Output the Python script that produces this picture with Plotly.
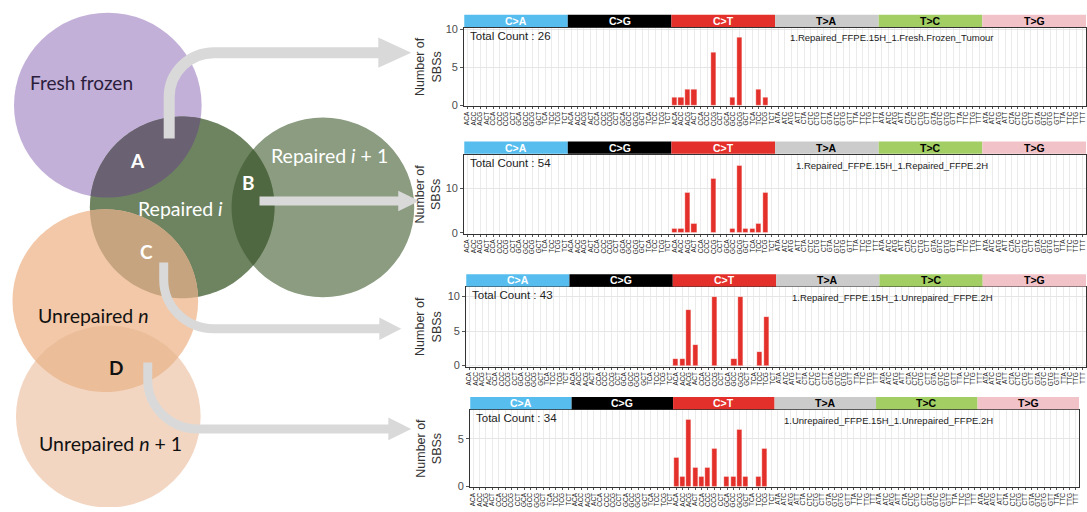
import numpy as np
import plotly.graph_objects as go

W, H = 1087, 512

# ---------------- data ----------------
MUT_TYPES = ["C>A", "C>G", "C>T", "T>A", "T>C", "T>G"]
TYPE_COLORS = ["#56BDEE", "#000000", "#E4302A", "#CBCBCB", "#A2CE63", "#F1C3C9"]
TYPE_TEXT_COLORS = ["white", "white", "white", "black", "black", "black"]
C_CONTEXTS = ["ACA", "ACC", "ACG", "ACT", "CCA", "CCC", "CCG", "CCT",
              "GCA", "GCC", "GCG", "GCT", "TCA", "TCC", "TCG", "TCT"]
T_CONTEXTS = ["ATA", "ATC", "ATG", "ATT", "CTA", "CTC", "CTG", "CTT",
              "GTA", "GTC", "GTG", "GTT", "TTA", "TTC", "TTG", "TTT"]
TICK_LABELS = C_CONTEXTS * 3 + T_CONTEXTS * 3

SAMPLE_NAMES = [
    "1.Repaired_FFPE.15H_1.Fresh.Frozen_Tumour",
    "1.Repaired_FFPE.15H_1.Repaired_FFPE.2H",
    "1.Repaired_FFPE.15H_1.Unrepaired_FFPE.2H",
    "1.Unrepaired_FFPE.15H_1.Unrepaired_FFPE.2H",
]
TOTAL_COUNTS = [26, 54, 43, 34]

COUNTS_A = [
    0, 0, 0, 0, 0, 0, 0, 0, 0, 0, 0, 0, 0, 0, 0, 0,   # C>A
    0, 0, 0, 0, 0, 0, 0, 0, 0, 0, 0, 0, 0, 0, 0, 0,   # C>G
    1, 1, 2, 2, 0, 0, 7, 0, 0, 1, 9, 0, 0, 2, 1, 0,   # C>T
    0, 0, 0, 0, 0, 0, 0, 0, 0, 0, 0, 0, 0, 0, 0, 0,   # T>A
    0, 0, 0, 0, 0, 0, 0, 0, 0, 0, 0, 0, 0, 0, 0, 0,   # T>C
    0, 0, 0, 0, 0, 0, 0, 0, 0, 0, 0, 0, 0, 0, 0, 0,   # T>G
]
COUNTS_B = [
    0, 0, 0, 0, 0, 0, 0, 0, 0, 0, 0, 0, 0, 0, 0, 0,
    0, 0, 0, 0, 0, 0, 0, 0, 0, 0, 0, 0, 0, 0, 0, 0,
    1, 1, 9, 2, 0, 0, 12, 0, 0, 1, 15, 1, 1, 2, 9, 0,
    0, 0, 0, 0, 0, 0, 0, 0, 0, 0, 0, 0, 0, 0, 0, 0,
    0, 0, 0, 0, 0, 0, 0, 0, 0, 0, 0, 0, 0, 0, 0, 0,
    0, 0, 0, 0, 0, 0, 0, 0, 0, 0, 0, 0, 0, 0, 0, 0,
]
COUNTS_C = [
    0, 0, 0, 0, 0, 0, 0, 0, 0, 0, 0, 0, 0, 0, 0, 0,
    0, 0, 0, 0, 0, 0, 0, 0, 0, 0, 0, 0, 0, 0, 0, 0,
    1, 1, 8, 3, 0, 0, 10, 0, 0, 1, 10, 0, 0, 2, 7, 0,
    0, 0, 0, 0, 0, 0, 0, 0, 0, 0, 0, 0, 0, 0, 0, 0,
    0, 0, 0, 0, 0, 0, 0, 0, 0, 0, 0, 0, 0, 0, 0, 0,
    0, 0, 0, 0, 0, 0, 0, 0, 0, 0, 0, 0, 0, 0, 0, 0,
]
COUNTS_D = [
    0, 0, 0, 0, 0, 0, 0, 0, 0, 0, 0, 0, 0, 0, 0, 0,
    0, 0, 0, 0, 0, 0, 0, 0, 0, 0, 0, 0, 0, 0, 0, 0,
    3, 1, 7, 2, 1, 2, 4, 0, 1, 1, 6, 1, 0, 1, 4, 0,
    0, 0, 0, 0, 0, 0, 0, 0, 0, 0, 0, 0, 0, 0, 0, 0,
    0, 0, 0, 0, 0, 0, 0, 0, 0, 0, 0, 0, 0, 0, 0, 0,
    0, 0, 0, 0, 0, 0, 0, 0, 0, 0, 0, 0, 0, 0, 0, 0,
]
PANEL_COUNTS = [COUNTS_A, COUNTS_B, COUNTS_C, COUNTS_D]
Y_TICKS = [[0, 5, 10], [0, 10], [0, 5, 10], [0, 5]]
Y_RANGES = [(-0.13, 10.26), (-0.2, 17.4), (-0.15, 11.4), (-0.1, 8.06)]

# ---------------- layout geometry (pixels) ----------------
PANEL_BOX = [(464, 1087, 24, 104), (464, 1087, 153.5, 234),
             (466, 1087, 288, 369), (470, 1080, 413, 492)]
STRIP_BOX = [(11, 23.5), (140, 152.5), (275, 287.5), (400, 412.5)]

FONT = "Liberation Sans, Arial, sans-serif"
VFONT = "Lato, Noto Sans, sans-serif"

def py(v):
    return 1 - v / H

fig = go.Figure()
shapes = []
annotations = []
layout_axes = {}

x_idx = list(range(96))
bar_colors = [TYPE_COLORS[i // 16] for i in x_idx]

for k in range(4):
    n = k + 1
    xa = "x" if n == 1 else f"x{n}"
    ya = "y" if n == 1 else f"y{n}"
    l, r, t, b = PANEL_BOX[k]
    fig.add_trace(go.Bar(
        x=x_idx, y=PANEL_COUNTS[k], xaxis=xa, yaxis=ya, width=0.8,
        marker=dict(color=bar_colors, line=dict(width=0.6, color="rgba(255,255,255,0.55)")),
        hoverinfo="skip", showlegend=False))
    layout_axes[f"xaxis{'' if n == 1 else n}"] = dict(
        domain=[l / W, r / W], anchor=ya, range=[-0.5, 95.5],
        tickmode="array", tickvals=x_idx, ticktext=TICK_LABELS, tickangle=-90,
        tickfont=dict(size=6.5, family=FONT, color="#222222"),
        ticks="outside", ticklen=2, tickcolor="#555555",
        showgrid=True, gridcolor="#EBEBEB", gridwidth=1,
        showline=True, mirror=True, linecolor="#333333", linewidth=1,
        zeroline=False, fixedrange=True)
    layout_axes[f"yaxis{'' if n == 1 else n}"] = dict(
        domain=[py(b), py(t)], anchor=xa, range=list(Y_RANGES[k]),
        tickmode="array", tickvals=Y_TICKS[k],
        tickfont=dict(size=11, family=FONT, color="#4D4D4D"),
        ticks="outside", ticklen=3, tickcolor="#555555",
        showgrid=True, gridcolor="#E5E5E5", gridwidth=1,
        showline=True, mirror=True, linecolor="#333333", linewidth=1,
        zeroline=False, fixedrange=True)
    # strips
    s_top, s_bot = STRIP_BOX[k]
    for g in range(6):
        shapes.append(dict(type="rect", xref=xa, yref="paper",
                           x0=g * 16 - 0.5, x1=g * 16 + 15.5, y0=py(s_bot), y1=py(s_top),
                           fillcolor=TYPE_COLORS[g], line=dict(width=0), layer="above"))
        annotations.append(dict(xref=xa, yref="paper", x=g * 16 + 7.5, y=py((s_top + s_bot) / 2),
                                text=f"<b>{MUT_TYPES[g]}</b>", showarrow=False,
                                font=dict(size=10.5, family=FONT, color=TYPE_TEXT_COLORS[g]),
                                xanchor="center", yanchor="middle"))
    annotations.append(dict(xref="paper", yref="paper", x=(l + 4) / W, y=py(t),
                            text=f"Total Count : {TOTAL_COUNTS[k]}", showarrow=False,
                            font=dict(size=11.5, family=FONT, color="#222222"),
                            xanchor="left", yanchor="top"))
    annotations.append(dict(xref=xa, yref="paper", x=65.5, y=py(t + 10.5),
                            text=SAMPLE_NAMES[k], showarrow=False,
                            font=dict(size=9.5, family=FONT, color="#222222"),
                            xanchor="center", yanchor="middle"))
    annotations.append(dict(xref="paper", yref="paper", x=428 / W, y=py((t + b) / 2),
                            text="Number of<br>SBSs", showarrow=False, textangle=-90,
                            font=dict(size=12.5, family=FONT, color="#333333"),
                            xanchor="center", yanchor="middle"))

# ---------------- Venn diagram (pixel coordinate overlay axis) ----------------
fig.add_trace(go.Scatter(x=[], y=[], xaxis="x5", yaxis="y5", showlegend=False, hoverinfo="skip"))
layout_axes["xaxis5"] = dict(domain=[0, 1], range=[0, W], visible=False, anchor="y5", fixedrange=True)
layout_axes["yaxis5"] = dict(domain=[0, 1], range=[H, 0], visible=False, anchor="x5", fixedrange=True)

CIRCLES = {
    "ff": (107, 103, 94, "#C3B0D8"),
    "ri": (181.5, 207, 92.5, "#6E8461"),
    "ri1": (322.5, 207, 91.5, "#8B9C80"),
    "un": (104.5, 302, 93, "#F2C8A8"),
    "un1": (107.5, 420, 92.5, "#F3D6C2"),
}
LENSES = [("ff", "ri", "#6A6272"), ("ri", "ri1", "#4F6841"),
          ("ri", "un", "#C6A47F"), ("un", "un1", "#EBBD98")]

for key in ["ff", "ri1", "ri", "un", "un1"]:
    cx, cy, rr, col = CIRCLES[key]
    shapes.append(dict(type="circle", xref="x5", yref="y5", x0=cx - rr, x1=cx + rr,
                       y0=cy - rr, y1=cy + rr, fillcolor=col, line=dict(width=0), layer="above"))

def lens_path(c1, c2):
    x1, y1, r1, _ = c1
    x2, y2, r2, _ = c2
    d = np.hypot(x2 - x1, y2 - y1)
    a = (r1 ** 2 - r2 ** 2 + d ** 2) / (2 * d)
    phi = np.arctan2(y2 - y1, x2 - x1)
    a1 = np.arccos(a / r1)
    a2 = np.arccos((d - a) / r2)
    t1 = np.linspace(phi - a1, phi + a1, 50)
    t2 = np.linspace(phi + np.pi - a2, phi + np.pi + a2, 50)
    pts = [(x1 + r1 * np.cos(t), y1 + r1 * np.sin(t)) for t in t1]
    pts += [(x2 + r2 * np.cos(t), y2 + r2 * np.sin(t)) for t in t2]
    return "M " + " L ".join(f"{px:.2f},{pyy:.2f}" for px, pyy in pts) + " Z"

for k1, k2, col in LENSES:
    shapes.append(dict(type="path", xref="x5", yref="y5", path=lens_path(CIRCLES[k1], CIRCLES[k2]),
                       fillcolor=col, line=dict(width=0), layer="above"))

ARROW = "#D9D9D9"
K = 0.5523

def bent_shaft(x, y_start, y_end, rad, x_end):
    sgn = 1 if y_end > y_start else -1
    yt = y_end - sgn * rad
    return (f"M {x},{y_start} L {x},{yt} "
            f"C {x},{yt + sgn * K * rad} {x + rad - K * rad},{y_end} {x + rad},{y_end} "
            f"L {x_end},{y_end}")

arrows = [
    (bent_shaft(168.5, 137, 49.5, 45, 381), 11, (378, 34, 411, 49.5, 65)),
    (f"M 259,200.5 L 400,200.5", 9, (398, 190, 419, 200.5, 211)),
    (bent_shaft(163, 263, 330.5, 50, 381), 9, (379, 319, 401, 330.5, 342)),
    (bent_shaft(147, 365, 432.5, 50, 390), 9, (388, 421, 411, 432.5, 444)),
]
for path, wdt, (hx, hy0, tx, ty, hy1) in arrows:
    shapes.append(dict(type="path", xref="x5", yref="y5", path=path,
                       line=dict(width=wdt, color=ARROW), fillcolor="rgba(0,0,0,0)", layer="above"))
    shapes.append(dict(type="path", xref="x5", yref="y5",
                       path=f"M {hx},{hy0} L {tx},{ty} L {hx},{hy1} Z",
                       line=dict(width=0), fillcolor=ARROW, layer="above"))

VENN_TEXT = [
    ("Fresh frozen", 80.5, 80, 19, "#2B1D3C", False),
    ("A", 137, 159, 19, "white", True),
    ("B", 247.5, 182, 19, "white", True),
    ("C", 146, 252, 19, "white", True),
    ("D", 115, 370, 19, "#111111", True),
    ("Repaired <i>i</i>", 179.5, 208, 19.5, "white", False),
    ("Repaired <i>i</i> + 1", 329, 154, 19.5, "white", False),
    ("Unrepaired <i>n</i>", 92.5, 317.5, 19.5, "#111111", False),
    ("Unrepaired <i>n</i> + 1", 109.5, 447.5, 19.5, "#111111", False),
]
for txt, cx, cy, sz, col, bold in VENN_TEXT:
    annotations.append(dict(xref="x5", yref="y5", x=cx, y=cy,
                            text=f"<b>{txt}</b>" if bold else txt, showarrow=False,
                            font=dict(size=sz, family=VFONT, color=col),
                            xanchor="center", yanchor="middle"))

fig.update_layout(
    width=W, height=H, margin=dict(l=0, r=0, t=0, b=0),
    paper_bgcolor="white", plot_bgcolor="rgba(0,0,0,0)", showlegend=False,
    bargap=0, shapes=shapes, annotations=annotations, **layout_axes)

fig.write_html("out.html")
